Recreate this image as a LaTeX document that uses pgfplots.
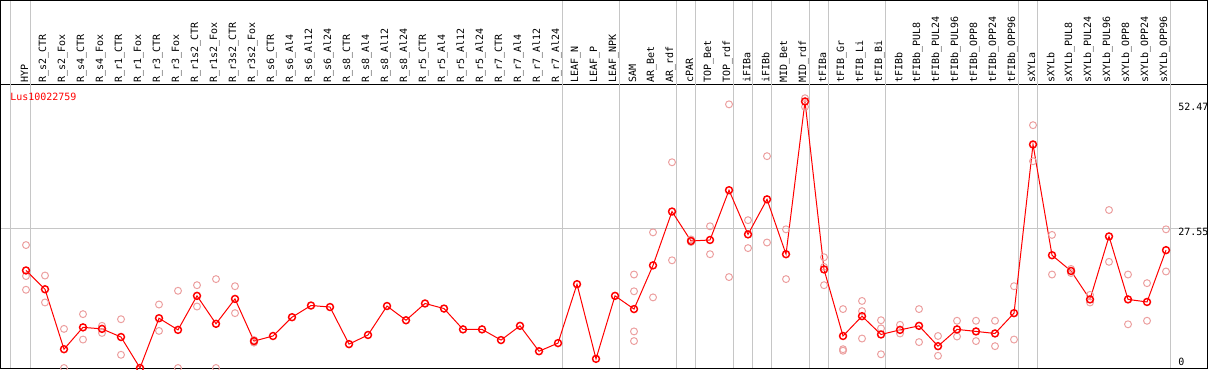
\documentclass[border=0pt]{standalone}
\usepackage{pgfplots}
\usepackage{pgfplotstable}
\pgfplotsset{compat=1.18}
\usepackage{fontspec}
\newfontfamily\monofont{DejaVu Sans Mono}
\definecolor{pinkrep}{RGB}{236,160,160}
\definecolor{gridgray}{RGB}{198,198,198}
\newcommand{\lab}{\monofont\fontsize{7.5}{8}\selectfont}

\pgfplotstableread{
x y
0 19.2
1 15.5
2 3.7
3 8.0
4 7.7
5 6.1
6 0.0
7 9.8
8 7.5
9 14.2
10 8.7
11 13.6
12 5.3
13 6.3
14 10.0
15 12.3
16 12.0
17 4.7
18 6.5
19 12.2
20 9.4
21 12.7
22 11.7
23 7.6
24 7.6
25 5.5
26 8.3
27 3.3
28 4.9
29 16.5
30 1.8
31 14.2
32 11.6
33 20.2
34 30.8
35 25.0
36 25.2
37 35.0
38 26.3
39 33.2
40 22.4
41 52.47
42 19.4
43 6.3
44 10.2
45 6.6
46 7.5
47 8.3
48 4.3
49 7.6
50 7.2
51 6.8
52 10.8
53 44.0
54 22.2
55 19.1
56 13.5
57 25.9
58 13.5
59 13.0
60 23.2
}\meantable

\pgfplotstableread{
x y
0 24.2
0 18.1
0 15.4
1 18.2
1 12.9
2 7.7
2 0.0
3 10.6
3 5.6
4 8.3
4 6.9
5 9.6
5 2.6
6 0.0
7 12.5
7 7.3
8 15.2
8 0.0
9 16.3
9 12.1
10 17.5
10 0.0
11 16.1
11 10.8
12 5.5
12 5.0
32 18.4
32 15.1
32 7.2
32 5.3
33 26.7
33 13.9
34 40.5
34 21.2
35 24.8
35 25.3
36 27.9
36 22.4
37 51.9
37 17.9
38 29.1
38 23.6
39 41.7
39 24.7
40 27.3
40 17.5
41 53.1
41 51.4
42 21.8
42 19.9
42 16.3
43 11.6
43 3.7
43 3.4
44 13.2
44 11.2
44 5.8
45 9.4
45 7.8
45 2.7
46 8.5
46 6.8
47 11.6
47 5.1
48 6.3
48 2.4
49 9.3
49 6.2
50 9.3
50 5.3
51 9.3
51 4.3
52 16.1
52 5.6
53 47.8
53 40.7
54 26.2
54 18.4
55 19.5
55 18.7
56 14.4
56 12.9
57 31.1
57 20.9
58 18.4
58 8.6
59 16.7
59 9.3
60 27.3
60 19.0
}\reptable

\begin{document}
\begin{tikzpicture}
\begin{axis}[
  scale only axis,
  width=905.25pt, height=212.625pt,
  xmin=-1.3421, xmax=62.184,
  ymin=-0.098, ymax=55.709,
  clip=false,
  axis line style={black, line width=0.75pt},
  xtick={0,...,60},
  xticklabels={HYP,R\_s2\_CTR,R\_s2\_Fox,R\_s4\_CTR,R\_s4\_Fox,R\_r1\_CTR,R\_r1\_Fox,R\_r3\_CTR,R\_r3\_Fox,R\_r1s2\_CTR,R\_r1s2\_Fox,R\_r3s2\_CTR,R\_r3s2\_Fox,R\_s6\_CTR,R\_s6\_Al4,R\_s6\_Al12,R\_s6\_Al24,R\_s8\_CTR,R\_s8\_Al4,R\_s8\_Al12,R\_s8\_Al24,R\_r5\_CTR,R\_r5\_Al4,R\_r5\_Al12,R\_r5\_Al24,R\_r7\_CTR,R\_r7\_Al4,R\_r7\_Al12,R\_r7\_Al24,LEAF\_N,LEAF\_P,LEAF\_NPK,SAM,AR\_Bet,AR\_rdf,cPAR,TOP\_Bet,TOP\_rdf,iFIBa,iFIBb,MID\_Bet,MID\_rdf,tFIBa,tFIB\_Gr,tFIB\_Li,tFIB\_Bi,tFIBb,tFIBb\_PUL8,tFIBb\_PUL24,tFIBb\_PUL96,tFIBb\_OPP8,tFIBb\_OPP24,tFIBb\_OPP96,sXYLa,sXYLb,sXYLb\_PUL8,sXYLb\_PUL24,sXYLb\_PUL96,sXYLb\_OPP8,sXYLb\_OPP24,sXYLb\_OPP96},
  xticklabel pos=upper,
  xticklabel style={rotate=90, anchor=west, font=\lab, inner sep=1.5pt, yshift=1.1pt},
  major tick length=0pt,
  ytick={27.55}, yticklabels={},
  ymajorgrids,
  grid style={gridgray, line width=0.75pt},
]
\pgfplotsinvokeforeach{-0.842,0.22,28.22,31.22,34.22,35.22,37.22,38.22,39.22,41.22,42.22,45.22,52.22,53.22,60.22}{
  \draw[gridgray, line width=0.75pt] (axis cs:#1,-0.098) -- (axis cs:#1,72.343);
}
\draw[black, line width=0.75pt] (axis cs:-1.3421,-0.098) rectangle (axis cs:62.184,72.343);
\coordinate (SW) at (axis cs:-1.3421,-0.098);
\coordinate (NE) at (axis cs:62.184,72.343);

\addplot[only marks, mark=o, mark size=2.6pt, color=pinkrep, mark options={line width=0.75pt}]
  table[x=x, y=y]{\reptable};
\addplot[color=red, line width=0.75pt, mark=o, mark size=2.6pt, mark options={line width=1.1pt}]
  table[x=x, y=y]{\meantable};

\node[anchor=west, text=red, font=\lab, inner sep=0pt] at (axis cs:-0.842,53.35) {Lus10022759};
\node[anchor=west, font=\lab, inner sep=0pt] at (axis cs:60.63,51.38) {52.47};
\node[anchor=west, font=\lab, inner sep=0pt] at (axis cs:60.63,26.77) {27.55};
\node[anchor=west, font=\lab, inner sep=0pt] at (axis cs:60.63,1.18) {0};
\end{axis}
\pgfresetboundingbox
\useasboundingbox ([shift={(-0.375pt,-1.125pt)}]SW) rectangle ([shift={(1.125pt,0.375pt)}]NE);
\end{tikzpicture}
\end{document}
